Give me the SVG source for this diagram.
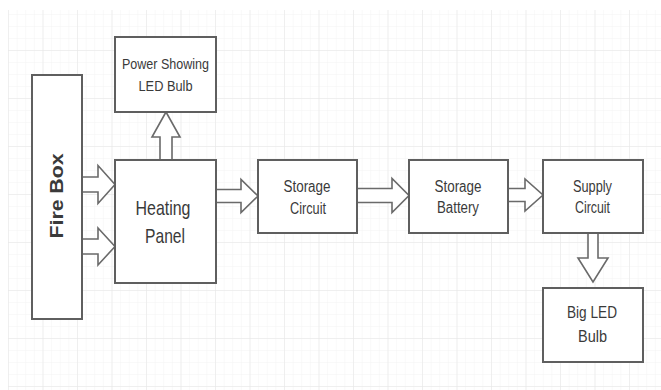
<svg xmlns="http://www.w3.org/2000/svg" width="661" height="390" viewBox="0 0 661 390">
  <defs>
    <pattern id="minor" x="8" y="2" width="8.625" height="12" patternUnits="userSpaceOnUse">
      <path d="M0,0 V12 M0,0 H8.625" fill="none" stroke="#f3f3f3" stroke-width="1"/>
    </pattern>
    <pattern id="major" x="8" y="2" width="34.5" height="48" patternUnits="userSpaceOnUse">
      <path d="M0,0 V48 M0,0 H34.5" fill="none" stroke="#e6e6e6" stroke-width="1"/>
    </pattern>
  </defs>
  <style>
    .box { fill: #ffffff; stroke: #5f5f5f; stroke-width: 2; }
    .arrow { fill: #ffffff; stroke: #6a6a6a; stroke-width: 1.6; stroke-linejoin: miter; }
    .t { font-family: "Liberation Sans", Arial, sans-serif; fill: #3a3a3a; text-anchor: middle; }
    .s14 { font-size: 15px; }
    .s15 { font-size: 16px; }
    .s20 { font-size: 21px; }
    .fb { font-size: 18px; font-weight: bold; }
  </style>
  <rect x="0" y="0" width="661" height="390" fill="#ffffff"/>
  <rect x="8" y="10" width="653" height="380" fill="url(#minor)"/>
  <rect x="8" y="10" width="653" height="380" fill="url(#major)"/>

  <g id="connectors">
    <polygon class="arrow" points="82,177 98,177 98,165.5 115,184.5 98,203.5 98,192 82,192"/>
    <polygon class="arrow" points="82,239 98,239 98,228 115,246.5 98,265 98,254 82,254"/>
    <polygon class="arrow" points="166,160 160,160 160,137 152,137 166,112 180,137 172,137 172,160"/>
    <polygon class="arrow" points="216,189.5 241,189.5 241,179.5 258,196 241,212.5 241,202.5 216,202.5"/>
    <polygon class="arrow" points="357,188.5 392,188.5 392,178.5 409,195.5 392,212.5 392,202.5 357,202.5"/>
    <polygon class="arrow" points="508,188.5 525,188.5 525,179 543,195 525,211 525,201.5 508,201.5"/>
    <polygon class="arrow" points="588,233 598,233 598,258 608,258 593,282 578,258 588,258"/>
  </g>

  <g id="fire-box">
    <rect class="box" x="32" y="75" width="50" height="244"/>
    <text class="t fb" transform="translate(63,196) rotate(-90)" textLength="85" lengthAdjust="spacingAndGlyphs">Fire Box</text>
  </g>

  <g id="power-led">
    <rect class="box" x="115" y="37" width="101" height="75"/>
    <text class="t s14" x="165.5" y="69" textLength="87" lengthAdjust="spacingAndGlyphs">Power Showing</text>
    <text class="t s14" x="165.5" y="91" textLength="54" lengthAdjust="spacingAndGlyphs">LED Bulb</text>
  </g>

  <g id="heating-panel">
    <rect class="box" x="115" y="160" width="101" height="123"/>
    <text class="t s20" x="163" y="215" textLength="55" lengthAdjust="spacingAndGlyphs">Heating</text>
    <text class="t s20" x="165" y="243" textLength="40" lengthAdjust="spacingAndGlyphs">Panel</text>
  </g>

  <g id="storage-circuit">
    <rect class="box" x="258" y="160" width="99" height="73"/>
    <text class="t s15" x="307" y="192" textLength="47" lengthAdjust="spacingAndGlyphs">Storage</text>
    <text class="t s15" x="308" y="214" textLength="36" lengthAdjust="spacingAndGlyphs">Circuit</text>
  </g>

  <g id="storage-battery">
    <rect class="box" x="409" y="160" width="99" height="73"/>
    <text class="t s15" x="458" y="192" textLength="47" lengthAdjust="spacingAndGlyphs">Storage</text>
    <text class="t s15" x="458" y="213" textLength="42" lengthAdjust="spacingAndGlyphs">Battery</text>
  </g>

  <g id="supply-circuit">
    <rect class="box" x="543" y="160" width="100" height="73"/>
    <text class="t s15" x="592.5" y="192" textLength="39" lengthAdjust="spacingAndGlyphs">Supply</text>
    <text class="t s15" x="592.5" y="213" textLength="35" lengthAdjust="spacingAndGlyphs">Circuit</text>
  </g>

  <g id="big-led">
    <rect class="box" x="543" y="288" width="100" height="74"/>
    <text class="t s15" x="592" y="318" textLength="50" lengthAdjust="spacingAndGlyphs">Big LED</text>
    <text class="t s15" x="592.5" y="342" textLength="29" lengthAdjust="spacingAndGlyphs">Bulb</text>
  </g>
</svg>
